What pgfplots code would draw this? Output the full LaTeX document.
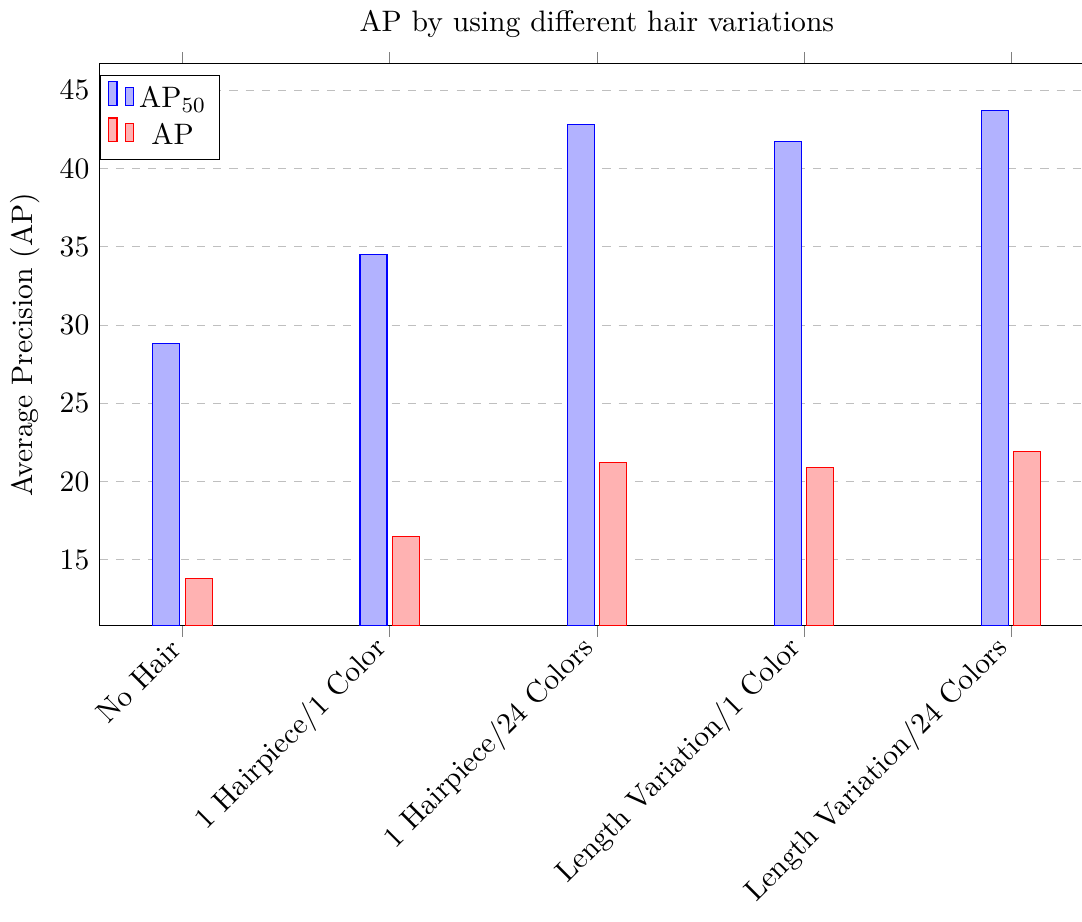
\documentclass[11pt,border=0pt]{standalone}
\usepackage{pgfplots}
\pgfplotsset{compat=1.18}
\begin{document}
\begin{tikzpicture}
\begin{axis}[
  name=ax,
  scale only axis,
  width=367.8pt, height=207.8pt,
  ybar,
  bar width=10pt,
  xmin=-0.4, xmax=4.4,
  xtick={0,1,2,3,4},
  xticklabels={No Hair,1 Hairpiece/1 Color,1 Hairpiece/24 Colors,Length Variation/1 Color,Length Variation/24 Colors},
  xticklabel style={rotate=45, anchor=east},
  xtick align=outside,
  xtick pos=both,
  x tick style={gray},
  y tick style={draw=none},
  ymajorgrids,
  grid style={dashed, gray!50},
  title={AP by using different hair variations},
  ylabel={Average Precision (AP)},
  legend style={at={(0,0.98)}, anchor=north west, cells={anchor=center}},
]
\addplot[draw=blue, fill=blue!30] coordinates {(0,28.8) (1,34.5) (2,42.8) (3,41.7) (4,43.7)};
\addplot[draw=red, fill=red!30] coordinates {(0,13.8) (1,16.5) (2,21.2) (3,20.9) (4,21.9)};
\legend{AP$_{50}$, AP}
\end{axis}
\coordinate (bl) at (current bounding box.south west);
\coordinate (tr) at (current bounding box.north east);
\coordinate (r) at ([xshift=-4.4pt]ax.south east);
\pgfresetboundingbox
\path (bl) rectangle (r |- tr);
\end{tikzpicture}
\end{document}
